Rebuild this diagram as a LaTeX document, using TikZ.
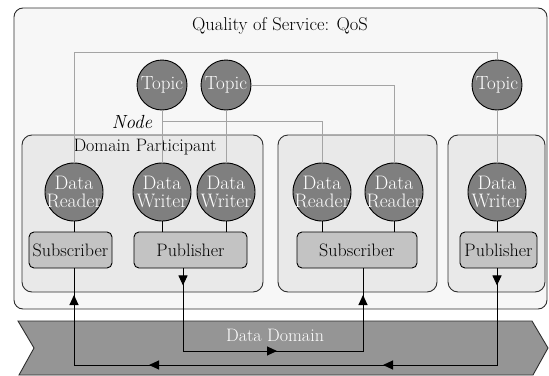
\documentclass[tikz,border=0pt]{standalone}
\usepackage{tikz}
\usetikzlibrary{arrows.meta}
\tikzset{>={Triangle[width=9pt,length=10pt]}}

\definecolor{qosfill}{HTML}{F7F7F7}
\definecolor{partfill}{HTML}{E9E9E9}
\definecolor{entfill}{HTML}{7F7F7F}
\definecolor{boxfill}{HTML}{C3C3C3}
\definecolor{bandfill}{HTML}{959595}
\definecolor{wire}{HTML}{A4A4A4}
\definecolor{edge}{HTML}{2E2E2E}

\tikzset{
  qosbox/.style={draw=edge, fill=qosfill, line width=0.9pt, rounded corners=9pt,
    minimum width=533pt, minimum height=301pt, inner sep=0pt},
  partbox/.style={draw=edge, fill=partfill, line width=0.9pt, rounded corners=10pt,
    minimum height=157pt, inner sep=0pt},
  topic/.style={circle, draw=black, fill=entfill, line width=0.9pt, text=white,
    minimum size=50pt, inner sep=0pt, font=\fontsize{19}{19}\selectfont},
  entity/.style={circle, draw=black, fill=entfill, line width=0.9pt, text=white,
    minimum size=58pt, inner sep=-8pt, align=center,
    font=\fontsize{19.5}{18}\selectfont},
  pubsub/.style={draw=black, fill=boxfill, line width=0.9pt, rounded corners=5pt,
    minimum height=36pt, inner sep=0pt},
  wiring/.style={draw=wire, line width=1pt},
  link/.style={draw=black, line width=1pt},
  flow/.style={draw=black, line width=1pt},
}

\begin{document}
\begin{tikzpicture}[x=1pt, y=-1pt, font=\fontsize{18}{18}\selectfont]
  \clip (0,0) rectangle (549,375);

  % QoS frame and the three participants
  \node[qosbox] (qos) at (280.5,158.5) {};
  \node[font=\fontsize{18.5}{18}\selectfont] (title) at (280,26) {Quality of Service: QoS};
  \node[partbox, minimum width=241pt] (partA) at (142.5,213.5) {};
  \node[partbox, minimum width=159pt] (partB) at (357.5,213.5) {};
  \node[partbox, minimum width=97pt]  (partC) at (496.5,213.5) {};
  \node (partAlbl) at (145,147) {Domain Participant};
  \node[font=\fontsize{19}{19}\selectfont\itshape] (nodelbl) at (132,122) {Node};

  % topics
  \node[topic] (topicA) at (162,85) {Topic};
  \node[topic] (topicB) at (226,85) {Topic};
  \node[topic] (topicC) at (497,85) {Topic};

  % readers and writers
  \node[entity] (readerA) at (74,192)  {Data\\Reader};
  \node[entity] (writerA) at (162,192) {Data\\Writer};
  \node[entity] (writerB) at (226,192) {Data\\Writer};
  \node[entity] (readerB) at (322,192) {Data\\Reader};
  \node[entity] (readerC) at (394,192) {Data\\Reader};
  \node[entity] (writerC) at (497,192) {Data\\Writer};

  % publishers and subscribers
  \node[pubsub, minimum width=83pt]  (subA) at (70.5,250)  {Subscriber};
  \node[pubsub, minimum width=113pt] (pubA) at (190.5,250) {Publisher};
  \node[pubsub, minimum width=120pt] (subB) at (357,250)   {Subscriber};
  \node[pubsub, minimum width=77pt]  (pubB) at (498.5,250) {Publisher};

  \draw[link] (readerA.south) -- (readerA.south |- subA.north);
  \draw[link] (writerA.south) -- (writerA.south |- pubA.north);
  \draw[link] (writerB.south) -- (writerB.south |- pubA.north);
  \draw[link] (readerB.south) -- (readerB.south |- subB.north);
  \draw[link] (readerC.south) -- (readerC.south |- subB.north);
  \draw[link] (writerC.south) -- (writerC.south |- pubB.north);

  % topic wiring
  \coordinate (wtop) at (0,52);
  \coordinate (wtap) at (162,121);
  \draw[wiring] (readerA.north) -- (readerA.north |- wtop) -| (topicC.north);
  \draw[wiring] (topicA.south) -- (writerA.north);
  \draw[wiring] (wtap) -| (readerB.north);
  \draw[wiring] (topicB.south) -- (writerB.north);
  \draw[wiring] (topicB.east) -| (readerC.north);
  \draw[wiring] (topicC.south) -- (writerC.north);

  % data domain band
  \draw[draw=edge, fill=bandfill, line width=0.9pt]
    (18,321) -- (532,321) -- (548,348) -- (533,375) -- (19,375) -- (34,348) -- cycle;
  \node[text=white] (domain) at (275,335) {Data Domain};

  % traffic through the domain
  \coordinate (colA) at (74,0);
  \coordinate (colB) at (183,0);
  \coordinate (colC) at (363,0);
  \coordinate (colD) at (497,0);
  \coordinate (busHi) at (0,351);
  \coordinate (busLo) at (0,365);

  \draw[flow] (pubA.south -| colB) -- (colB |- busHi) -- (colC |- busHi) -- (subB.south -| colC);
  \draw[flow,->] (pubA.south -| colB) -- ++(0,17);
  \draw[flow,->] (colB |- busHi) -- ++(94,0);
  \draw[flow,->] (colC |- busHi) -- ++(0,-56);

  \draw[flow] (pubB.south -| colD) -- (colD |- busLo) -- (colA |- busLo) -- (subA.south -| colA);
  \draw[flow,->] (pubB.south -| colD) -- ++(0,17);
  \draw[flow,->] (colD |- busLo) -- ++(-114,0);
  \draw[flow,->] (colD |- busLo) -- ++(-348,0);
  \draw[flow,->] (colA |- busLo) -- ++(0,-70);
\end{tikzpicture}
\end{document}
